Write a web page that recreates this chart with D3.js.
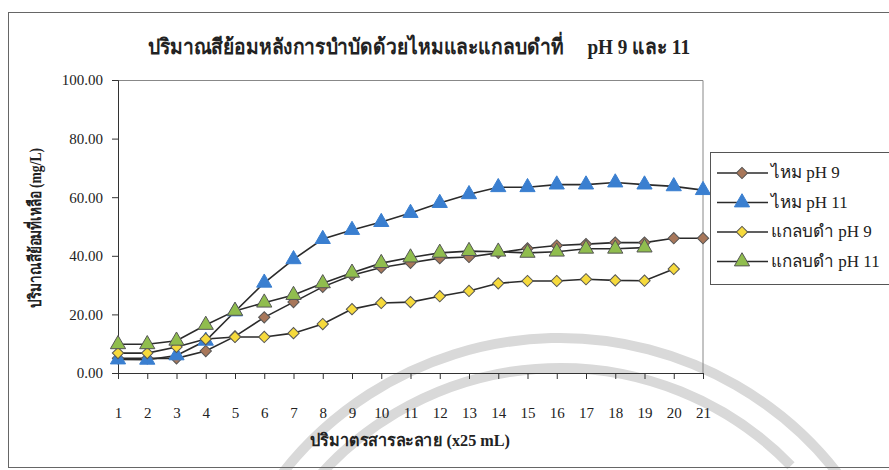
<!DOCTYPE html>
<html>
<head>
<meta charset="utf-8">
<script src="https://cdn.jsdelivr.net/npm/d3@7"></script>
<style>
  body { margin: 0; background: #fff; }
  svg { display: block; font-family: "Liberation Serif", "DejaVu Serif", serif; }
</style>
</head>
<body>
<svg id="chart" width="889" height="470"></svg>
<script>
// Data
const steps = d3.range(1, 22); // 1..21 (x25 mL)
const silkPH9 = [5.0, 5.0, 5.0, 7.5, 12.5, 19.0, 24.2, 29.4, 33.4, 36.0, 37.6, 39.2, 39.6, 41.0, 42.5, 43.5, 44.0, 44.5, 44.5, 46.0, 46.0];
const silkPH11 = [4.6, 4.5, 6.0, 11.0, 21.0, 30.8, 38.8, 45.7, 48.8, 51.5, 54.6, 58.0, 61.0, 63.4, 63.4, 64.3, 64.3, 65.0, 64.3, 63.7, 62.4];
const husk9 = [6.8, 6.8, 8.9, 11.6, 12.3, 12.3, 13.6, 16.7, 21.8, 23.9, 24.2, 26.2, 28.0, 30.6, 31.4, 31.4, 32.0, 31.6, 31.5, 35.5];
const husk11 = [9.8, 9.8, 11.0, 16.4, 21.2, 24.0, 26.6, 30.6, 34.2, 37.5, 39.4, 41.0, 41.6, 41.4, 41.0, 41.4, 42.4, 42.4, 42.8];
const yTicks = [0, 20, 40, 60, 80, 100];

const series = [
  { name: "ไหม pH 9", values: silkPH9, shape: "diamond", fill: "#A8775A" },
  { name: "ไหม pH 11", values: silkPH11, shape: "triangle", fill: "#3A7FD0" },
  { name: "แกลบดำ pH 9", values: husk9, shape: "diamond", fill: "#F6DA3C" },
  { name: "แกลบดำ pH 11", values: husk11, shape: "triangle", fill: "#90BD4E" }
];

const svg = d3.select("#chart");
const margin = { top: 80, left: 118 };
const width = 585, height = 293;

// faint watermark arcs from the scanned page
const wm = svg.append("g").attr("fill", "none").attr("stroke", "#d9d9d9").attr("stroke-width", 10);
wm.append("path").attr("d", d3.arc()({ innerRadius: 352, outerRadius: 352, startAngle: -1.05, endAngle: 1.0 }))
  .attr("transform", "translate(560,690)");
wm.append("path").attr("d", d3.arc()({ innerRadius: 322, outerRadius: 322, startAngle: -0.95, endAngle: 0.8 }))
  .attr("transform", "translate(560,690)");

// outer frame
svg.append("rect")
  .attr("x", 8.5).attr("y", 12.5).attr("width", 900).attr("height", 455)
  .attr("fill", "none").attr("stroke", "#666").attr("stroke-width", 1);

const x = d3.scalePoint().domain(steps).range([0, width]);
const y = d3.scaleLinear().domain([0, 100]).range([height, 0]);

const g = svg.append("g").attr("transform", `translate(${margin.left},${margin.top})`);

// plot area border (top & right)
g.append("path")
  .attr("d", `M0,0.5H${width}V${height}`)
  .attr("fill", "none").attr("stroke", "#888").attr("stroke-width", 1);

// y axis
const yAxis = g.append("g")
  .call(d3.axisLeft(y).tickValues(yTicks).tickFormat(d3.format(".2f")).tickSize(6).tickPadding(9));
yAxis.select(".domain").attr("stroke", "#333");
yAxis.selectAll(".tick line").attr("stroke", "#333");
yAxis.selectAll("text").attr("font-size", 15).attr("fill", "#222")
  .attr("font-family", "Liberation Serif, serif");

// x axis
const xAxis = g.append("g").attr("transform", `translate(0,${height})`)
  .call(d3.axisBottom(x).tickSize(6).tickPadding(28));
xAxis.select(".domain").attr("stroke", "#333");
xAxis.selectAll(".tick line").attr("stroke", "#333");
xAxis.selectAll("text").attr("font-size", 15).attr("fill", "#222")
  .attr("font-family", "Liberation Serif, serif");

const line = d3.line().x((d, i) => x(steps[i])).y(d => y(d));

const symbolFor = s => s === "diamond"
  ? d3.symbol().type(d3.symbolSquare).size(64)
  : d3.symbol().type(d3.symbolTriangle).size(100);

series.forEach(s => {
  g.append("path")
    .datum(s.values)
    .attr("fill", "none")
    .attr("stroke", "#2b2b2b")
    .attr("stroke-width", 1.6)
    .attr("d", line);
});
series.forEach(s => {
  const sym = symbolFor(s.shape);
  g.selectAll(null)
    .data(s.values)
    .enter().append("path")
    .attr("d", sym)
    .attr("transform", (d, i) => `translate(${x(steps[i])},${y(d)})` + (s.shape === "diamond" ? " rotate(45)" : ""))
    .attr("fill", s.fill)
    .attr("stroke", s.fill === "#3A7FD0" ? "#3A7FD0" : "#555")
    .attr("stroke-width", 1);
});

// title
svg.append("text")
  .attr("x", 419).attr("y", 54)
  .attr("text-anchor", "middle")
  .attr("font-size", 21).attr("font-weight", "bold").attr("fill", "#222")
  .attr("textLength", 542).attr("lengthAdjust", "spacingAndGlyphs")
  .style("white-space", "pre")
  .text("ปริมาณสีย้อมหลังการบำบัดด้วยไหมและแกลบดำที่     pH 9 และ 11");

// axis titles
svg.append("text")
  .attr("transform", "translate(41,228) rotate(-90)")
  .attr("text-anchor", "middle")
  .attr("font-size", 17).attr("font-weight", "bold").attr("fill", "#222")
  .attr("textLength", 160).attr("lengthAdjust", "spacingAndGlyphs")
  .text("ปริมาณสีย้อมที่เหลือ (mg/L)");

svg.append("text")
  .attr("x", 410).attr("y", 446)
  .attr("text-anchor", "middle")
  .attr("font-size", 17).attr("font-weight", "bold").attr("fill", "#222")
  .attr("textLength", 200).attr("lengthAdjust", "spacingAndGlyphs")
  .text("ปริมาตรสารละลาย (x25 mL)");

// legend
const lg = svg.append("g").attr("transform", "translate(710,152)");
lg.append("rect").attr("x", 0.5).attr("y", 0.5).attr("width", 190).attr("height", 132)
  .attr("fill", "#fff").attr("stroke", "#555");
series.forEach((s, i) => {
  const yy = 21 + i * 29.5;
  lg.append("line").attr("x1", 7).attr("x2", 58).attr("y1", yy).attr("y2", yy)
    .attr("stroke", "#2b2b2b").attr("stroke-width", 1.6);
  lg.append("path").attr("d", symbolFor(s.shape))
    .attr("transform", `translate(32,${yy})` + (s.shape === "diamond" ? " rotate(45)" : ""))
    .attr("fill", s.fill)
    .attr("stroke", s.fill === "#3A7FD0" ? "#3A7FD0" : "#555");
  lg.append("text").attr("x", 61).attr("y", yy + 5)
    .attr("font-size", 17).attr("fill", "#222")
    .text(s.name);
});
</script>
</body>
</html>
